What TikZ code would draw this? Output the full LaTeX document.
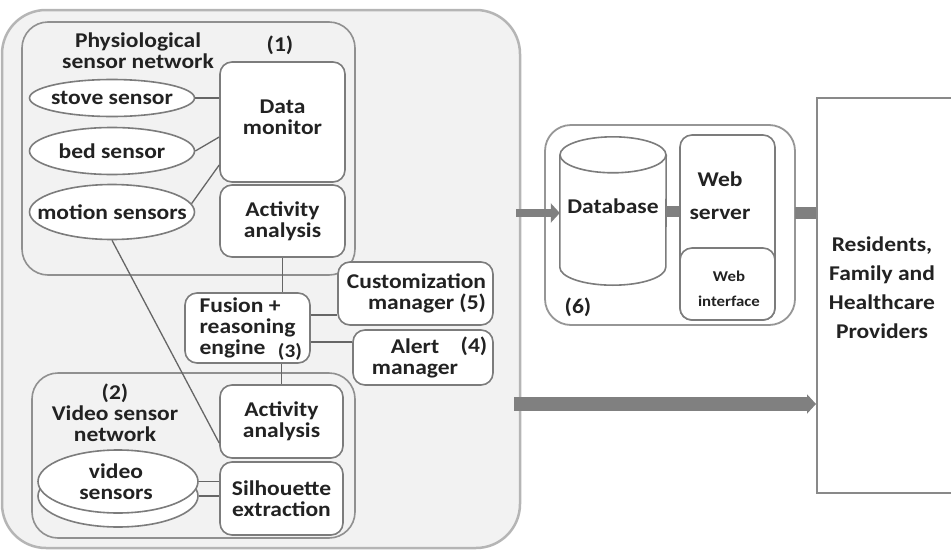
\documentclass[tikz,border=0pt]{standalone}
\usepackage{fontspec}
\setmainfont{Carlito}[FakeStretch=1.12]
\usetikzlibrary{shapes.geometric,arrows.meta,calc}
\definecolor{panelfill}{HTML}{F2F2F2}
\definecolor{panelline}{HTML}{B5B5B5}
\definecolor{boxline}{HTML}{7C7C7C}
\definecolor{connc}{HTML}{666666}
\definecolor{thickc}{HTML}{808080}
\definecolor{txtc}{HTML}{222222}
\begin{document}
\begin{tikzpicture}[x=1pt,y=-1pt,
  every node/.style={font=\fontsize{21}{21}\selectfont\bfseries, text=txtc, inner sep=0pt},
  boxst/.style={draw=boxline, line width=1.6pt, fill=white, rounded corners=12pt},
  groupst/.style={draw=boxline!85, line width=1.6pt, rounded corners=26pt},
  ellst/.style={ellipse, draw=boxline, line width=1.6pt, fill=white},
  connst/.style={draw=connc, line width=1.3pt},
  barst/.style={draw=thickc, line width=#1},
  arrowst/.style={draw=thickc, line width=#1, -{Triangle[length=9pt,width=19pt]}},
]
\useasboundingbox (0,0) rectangle (951,552);
% outer panel
\draw[fill=panelfill, draw=panelline, line width=2.5pt, rounded corners=44pt] (2,10) rectangle (520,548);

% physiological sensor network group
\draw[groupst] (22,22) rectangle (355,275);
\node[align=center] (phys-t) at (138,51) {Physiological\\sensor network};
\node (n1) at (280,45) {(1)};
\node[boxst, minimum width=125pt, minimum height=120pt] (dm) at (282.5,122) {};
\node[align=center] (dm-t) at (282.5,117) {Data\\monitor};
\node[boxst, minimum width=125pt, minimum height=72pt, align=center] (act1) at (282.5,221) {Activity\\analysis};
\node[ellst, minimum width=165pt, minimum height=37pt] (stove) at (112,98) {\makebox[0pt]{stove sensor}};
\node[ellst, minimum width=165pt, minimum height=47pt] (bed) at (112,151) {\makebox[0pt]{bed sensor}};
\node[ellst, minimum width=165pt, minimum height=55pt] (motion) at (112,212) {\makebox[0pt]{motion sensors}};

% video sensor network group
\draw[groupst] (32,373) rectangle (355,538);
\node[align=center] (vid-g) at (115,413) {(2)\\Video sensor\\network};
\node[boxst, minimum width=123pt, minimum height=73pt, align=center] (act2) at (281.5,421.5) {Activity\\analysis};
\node[boxst, minimum width=123pt, minimum height=73pt, align=center] (silh) at (281.5,498.5) {Silhouette\\extraction};
\node[ellst, minimum width=160pt, minimum height=62pt] (vbot) at (118,496) {};
\node[ellst, minimum width=160pt, minimum height=63pt] (vtop) at (118,481.5) {};
\node[align=center] (vid-t) at (116,482) {video\\sensors};

% fusion, customization, alert
\node[boxst, minimum width=125pt, minimum height=70pt, align=left] (fusion) at (247.5,328) {Fusion +\\reasoning\\engine};
\node[font=\fontsize{19}{19}\selectfont\bfseries] (n3) at (290,352) {(3)};
\node[boxst, minimum width=155pt, minimum height=63pt, align=right] (custom) at (415.5,293.5) {\hspace*{2pt}Customization\\manager (5)};
\node[boxst, minimum width=140pt, minimum height=55pt] (alert) at (423,357.5) {};
\node[align=center] (alert-t) at (415,358) {Alert\\manager};
\node (n4) at (474,346) {(4)};

% right side: database group
\draw[draw=boxline!80, line width=1.8pt, fill=white, rounded corners=26pt] (545,125) rectangle (795,325);
\coordinate (dbg-e) at (795,213);
\node[minimum width=106pt, minimum height=148pt] (db) at (613,211) {};
\fill[white] ($(db.north west)+(0,18)$) -- ($(db.south west)+(0,-18)$) arc[start angle=180,end angle=0,x radius=53,y radius=18] -- ($(db.north east)+(0,18)$) -- cycle;
\draw[draw=boxline, line width=1.6pt] ($(db.north west)+(0,18)$) -- ($(db.south west)+(0,-18)$) arc[start angle=180,end angle=0,x radius=53,y radius=18] -- ($(db.north east)+(0,18)$);
\draw[draw=boxline, line width=1.6pt, fill=white] ($(db.north)+(0,18)$) ellipse[x radius=53, y radius=18];
\node (db-t) at (613,206) {Database};
\node (n6) at (578,307) {(6)};
\node[boxst, minimum width=95pt, minimum height=185pt] (ws) at (727.5,227.5) {};
\node[align=center, font=\fontsize{21}{33}\selectfont\bfseries] (ws-t) at (720,196) {Web\\server};
\node[boxst, minimum width=95pt, minimum height=72pt] (wi) at (727.5,284) {};
\node[align=center, font=\fontsize{15}{25}\selectfont\bfseries] (wi-t) at (729,289) {Web\\interface};

% residents box
\node[draw=boxline!90, line width=2pt, fill=white, minimum width=140pt, minimum height=395pt] (res) at (887,295.5) {};
\node[align=center, font=\fontsize{21}{29}\selectfont\bfseries] (res-t) at (882,288) {Residents,\\Family and\\Healthcare\\Providers};

% thin connectors
\draw[connst] (stove.east) -- (stove.east -| dm.west);
\draw[connst] (bed.east) -- ([yshift=-15pt]dm.west);
\draw[connst] (motion.6) -- ([yshift=-43pt]dm.west);
\draw[connst] (motion.south) -- ([yshift=-21.5pt]act2.west);
\draw[connst] (act1.south) -- (act1.south |- fusion.north);
\draw[connst] (act2.north |- fusion.south) -- (act2.north);
\coordinate (f1) at ($(fusion.east)+(0,-13)$);
\coordinate (f2) at ($(fusion.east)+(0,14)$);
\draw[connst] (f1) -- (f1 -| custom.west);
\draw[connst] (f2) -- (f2 -| alert.west);
\draw[connst] (vtop.east) -- (vtop.east -| silh.west);
\draw[connst] (vbot.east) -- (vbot.east -| silh.west);

% thick connectors
\coordinate (pin) at (516,213);
\coordinate (pbig) at (514,404);
\draw[arrowst=8pt] (pin) -- (pin -| db.west);
\draw[barst=11pt] (db.east) -- (db.east -| ws.west);
\draw[barst=12pt] (dbg-e) -- (dbg-e -| res.west);
\draw[arrowst=14pt] (pbig) -- (pbig -| res.west);
\end{tikzpicture}
\end{document}
